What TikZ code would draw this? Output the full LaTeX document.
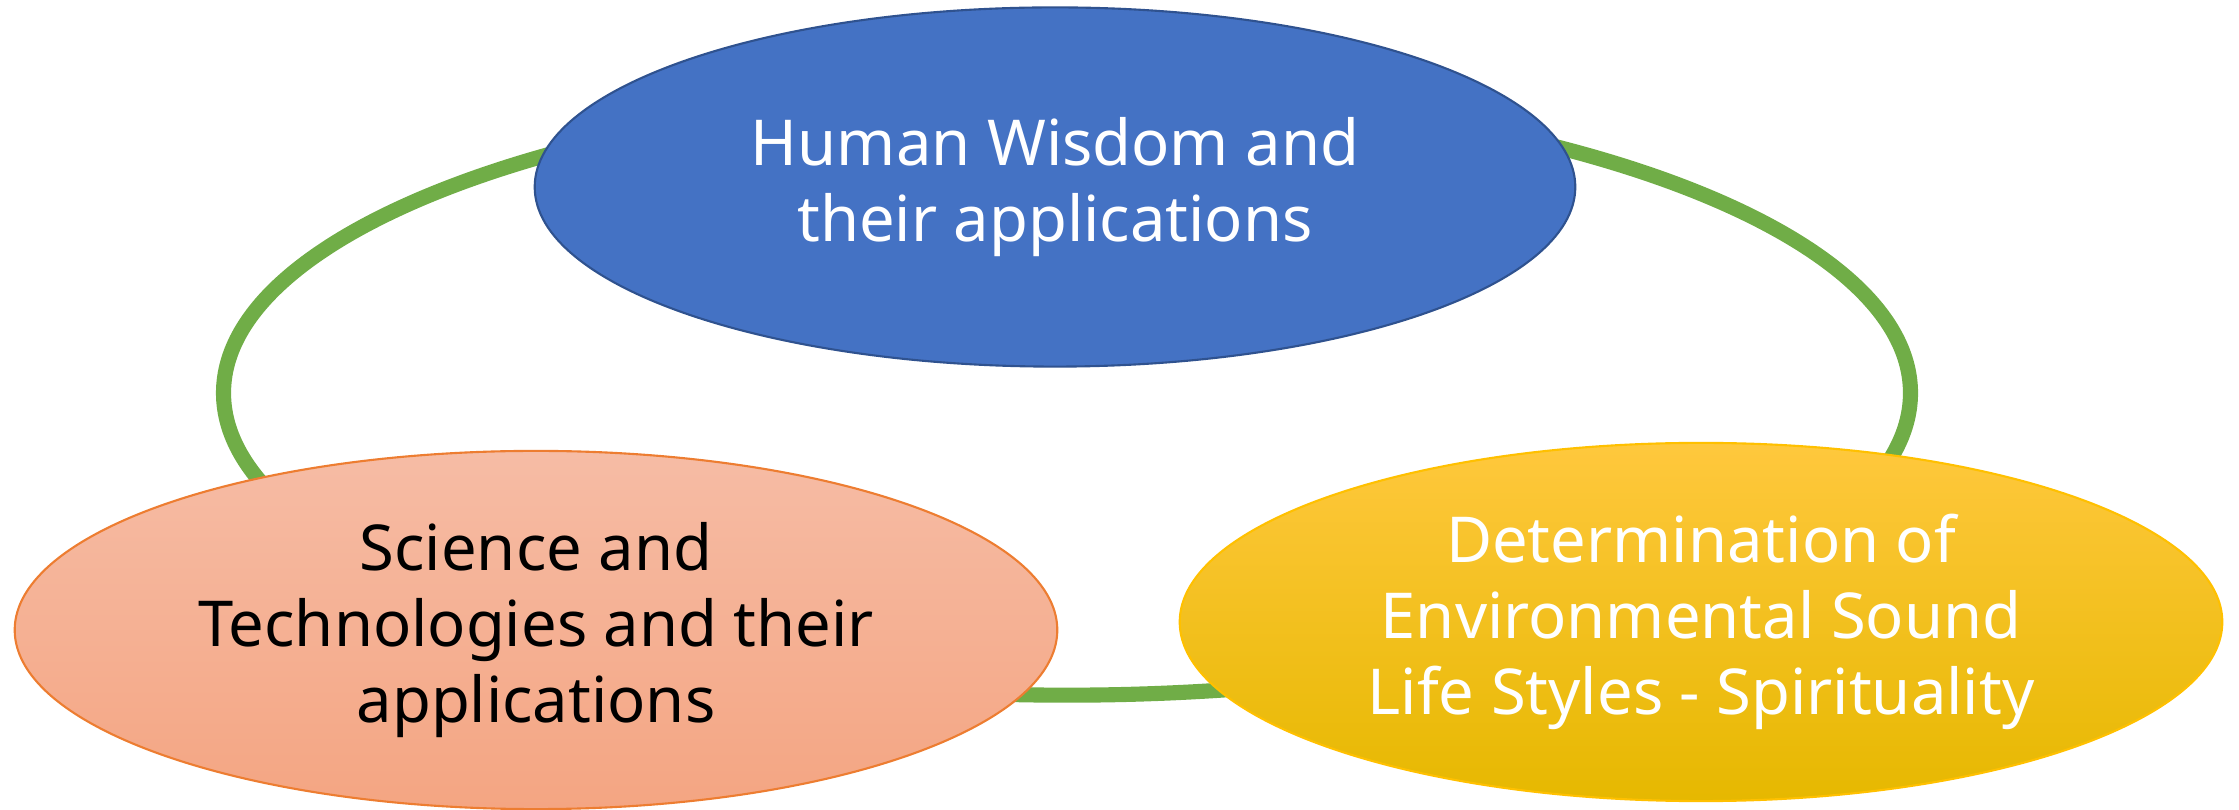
\documentclass[tikz,border=0pt]{standalone}
\usepackage{fontspec}
\setmainfont{Noto Sans}
\usetikzlibrary{shapes.geometric}
\definecolor{ringgreen}{HTML}{70AD47}
\definecolor{wisdomblue}{HTML}{4472C4}
\definecolor{wisdomedge}{HTML}{2F528F}
\definecolor{sciencetop}{HTML}{F6BCA5}
\definecolor{sciencebottom}{HTML}{F4A582}
\definecolor{scienceedge}{HTML}{ED7D31}
\definecolor{soundtop}{HTML}{FFC83D}
\definecolor{soundmid}{HTML}{FFC000}
\definecolor{soundbottom}{HTML}{E6B800}
\begin{document}
\begin{tikzpicture}[x=0.01cm, y=-0.01cm,
				bubble/.style = {ellipse, align=center, inner sep=0pt,
					line width=0.6pt, minimum width=10.42cm, minimum height=3.58cm,
					font=\fontsize{18}{21.6}\selectfont},
				ring/.style = {draw=ringgreen, line width=4.3pt}]
				\useasboundingbox (0,0) rectangle (2239,810);
				\draw[ring] (1067,393) ellipse [x radius=8.43cm, y radius=3.02cm];
				\node[bubble, draw=wisdomedge, fill=wisdomblue, text=white,
					minimum width=10.4cm, minimum height=3.59cm] (wisdom) at (1055,187)
					{Human Wisdom and\\their applications};
				\node[bubble, draw=scienceedge, top color=sciencetop,
					bottom color=sciencebottom] (science) at (536,630)
					{Science and\\Technologies and their\\applications};
				\node[bubble, draw=soundmid, top color=soundtop, middle color=soundmid,
					bottom color=soundbottom, text=white] (sound) at (1701,622)
					{Determination of\\Environmental Sound\\Life Styles - Spirituality};
			\end{tikzpicture}
\end{document}
